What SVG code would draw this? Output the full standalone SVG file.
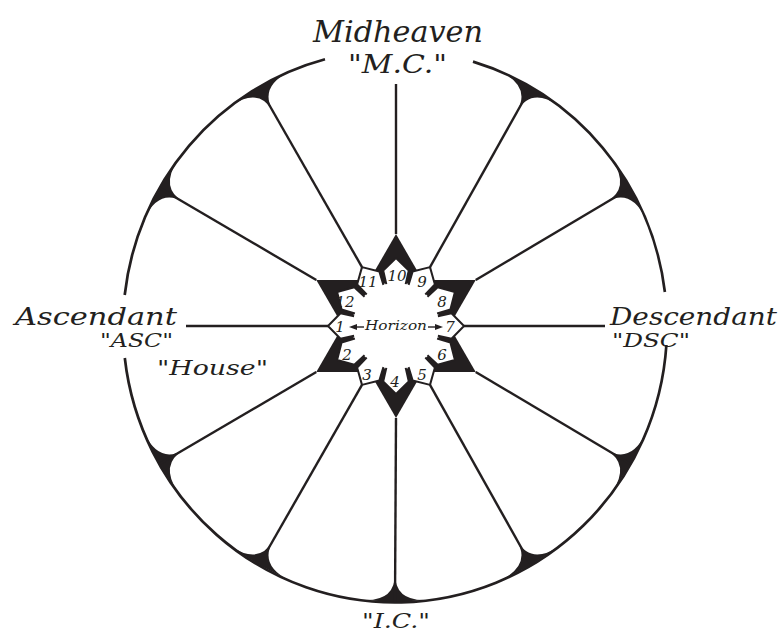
<svg xmlns="http://www.w3.org/2000/svg" width="782" height="634" viewBox="0 0 782 634">
<style>
.rim{fill:none;stroke:#231f20;stroke-width:2.7}
.ln{fill:none;stroke:#231f20;stroke-width:2.4}
.cusp{fill:#231f20}
.tabline{fill:none;stroke:#231f20;stroke-width:2;stroke-linejoin:round}
.t{font-family:"DejaVu Serif",serif;font-style:italic;fill:#231f20}
.num{font-family:"DejaVu Serif",serif;font-style:italic;fill:#231f20;font-size:15px;text-anchor:middle}
</style>
<defs>
<g id="tab">
<path d="M37,-8.55 L55.5,-12.8 L68,0 L55.5,12.8 L37,8.55Z" fill="#fff"/>
<path d="M41.9,-9.67 L55.5,-12.8 L68,0 L55.5,12.8 L41.9,9.67" class="tabline"/>
</g>
</defs>
<rect width="782" height="634" fill="#fff"/>
<g id="wheel">
<path class="rim" d="M473,61.6 A272 276 0 0 1 664.9,292"/>
<path class="rim" d="M666.4,345 A272 276 0 0 1 124.8,358"/>
<path class="rim" d="M124.7,295 A272 276 0 0 1 325,59.3"/>
</g>
<g id="cusps">
<path class="cusp" d="M606.3,202 Q630.6,188 645.4,218.2 L630.6,188 L612.2,159.9 Q630.6,188 606.3,202Z"/>
<path class="cusp" d="M517,111.3 Q531,87 558.7,105.6 L531,87 L501.3,71.9 Q531,87 517,111.3Z"/>
<path class="cusp" d="M273,111.3 Q259,87 288.7,71.9 L259,87 L231.3,105.6 Q259,87 273,111.3Z"/>
<path class="cusp" d="M183.7,202 Q159.4,188 177.8,159.9 L159.4,188 L144.6,218.2 Q159.4,188 183.7,202Z"/>
<path class="cusp" d="M183.7,450 Q159.4,464 144.6,433.8 L159.4,464 L177.8,492.1 Q159.4,464 183.7,450Z"/>
<path class="cusp" d="M273,540.8 Q259,565 231.3,546.4 L259,565 L288.7,580.1 Q259,565 273,540.8Z"/>
<path class="cusp" d="M395,574 Q395,602 361.8,599.9 L395,602 L428.2,599.9 Q395,602 395,574Z"/>
<path class="cusp" d="M517,540.8 Q531,565 501.3,580.1 L531,565 L558.7,546.4 Q531,565 517,540.8Z"/>
<path class="cusp" d="M606.3,450 Q630.6,464 612.2,492.1 L630.6,464 L645.4,433.8 Q630.6,464 606.3,450Z"/>
</g>
<g id="connectors">
<line class="ln" x1="464" y1="326" x2="605" y2="326"/>
<line class="ln" x1="475.7" y1="280" x2="630.6" y2="188"/>
<line class="ln" x1="430" y1="267.1" x2="531" y2="87"/>
<line class="ln" x1="396" y1="234" x2="396" y2="84"/>
<line class="ln" x1="362" y1="267.1" x2="259" y2="87"/>
<line class="ln" x1="316.3" y1="280" x2="159.4" y2="188"/>
<line class="ln" x1="328" y1="326" x2="186" y2="326"/>
<line class="ln" x1="316.3" y1="372" x2="159.4" y2="464"/>
<line class="ln" x1="362" y1="384.9" x2="259" y2="565"/>
<line class="ln" x1="396" y1="418" x2="395" y2="602"/>
<line class="ln" x1="430" y1="384.9" x2="531" y2="565"/>
<line class="ln" x1="475.7" y1="372" x2="630.6" y2="464"/>
</g>
<g id="hexagram">
<polygon fill="#231f20" points="396,234 475.7,372 316.3,372"/>
<polygon fill="#231f20" points="396,418 475.7,280 316.3,280"/>
<circle cx="396" cy="326" r="44" fill="#fff"/>
</g>
<g id="house-1"><use href="#tab" transform="translate(396,326) rotate(-180)"/><text class="num" x="340" y="332">1</text></g>
<g id="house-2"><use href="#tab" transform="translate(396,326) rotate(-210)"/><text class="num" x="347" y="360">2</text></g>
<g id="house-3"><use href="#tab" transform="translate(396,326) rotate(-240)"/><text class="num" x="367" y="380">3</text></g>
<g id="house-4"><use href="#tab" transform="translate(396,326) rotate(-270)"/><text class="num" x="395" y="387">4</text></g>
<g id="house-5"><use href="#tab" transform="translate(396,326) rotate(-300)"/><text class="num" x="422" y="380">5</text></g>
<g id="house-6"><use href="#tab" transform="translate(396,326) rotate(-330)"/><text class="num" x="442" y="360">6</text></g>
<g id="house-7"><use href="#tab" transform="translate(396,326)"/><text class="num" x="450" y="332">7</text></g>
<g id="house-8"><use href="#tab" transform="translate(396,326) rotate(-30)"/><text class="num" x="442" y="307">8</text></g>
<g id="house-9"><use href="#tab" transform="translate(396,326) rotate(-60)"/><text class="num" x="422" y="287">9</text></g>
<g id="house-10"><use href="#tab" transform="translate(396,326) rotate(-90)"/><text class="num" x="397" y="281">10</text></g>
<g id="house-11"><use href="#tab" transform="translate(396,326) rotate(-120)"/><text class="num" x="368" y="287">11</text></g>
<g id="house-12"><use href="#tab" transform="translate(396,326) rotate(-150)"/><text class="num" x="345" y="307">12</text></g>
<g id="horizon">
<line x1="355" y1="327" x2="364" y2="327" stroke="#231f20" stroke-width="1.4"/>
<polygon points="349,327 357,324 357,330" fill="#231f20"/>
<line x1="428" y1="327" x2="437" y2="327" stroke="#231f20" stroke-width="1.4"/>
<polygon points="443,327 435,324 435,330" fill="#231f20"/>
<text class="t" x="365" y="330" font-size="13" textLength="62" lengthAdjust="spacingAndGlyphs">Horizon</text>
</g>
<g id="labels">
<text class="t" x="313" y="42" font-size="29" textLength="170" lengthAdjust="spacingAndGlyphs">Midheaven</text>
<text class="t" x="348" y="73" font-size="26" textLength="99" lengthAdjust="spacingAndGlyphs">"M.C."</text>
<text class="t" x="15" y="325" font-size="25" textLength="162" lengthAdjust="spacingAndGlyphs">Ascendant</text>
<text class="t" x="100" y="347" font-size="18" textLength="73" lengthAdjust="spacingAndGlyphs">"ASC"</text>
<text class="t" x="610" y="325" font-size="25" textLength="167" lengthAdjust="spacingAndGlyphs">Descendant</text>
<text class="t" x="612" y="347" font-size="18" textLength="78" lengthAdjust="spacingAndGlyphs">"DSC"</text>
<text class="t" x="157" y="375" font-size="21" textLength="111" lengthAdjust="spacingAndGlyphs">"House"</text>
<text class="t" x="362" y="628" font-size="20" textLength="68" lengthAdjust="spacingAndGlyphs">"I.C."</text>
</g>
</svg>
